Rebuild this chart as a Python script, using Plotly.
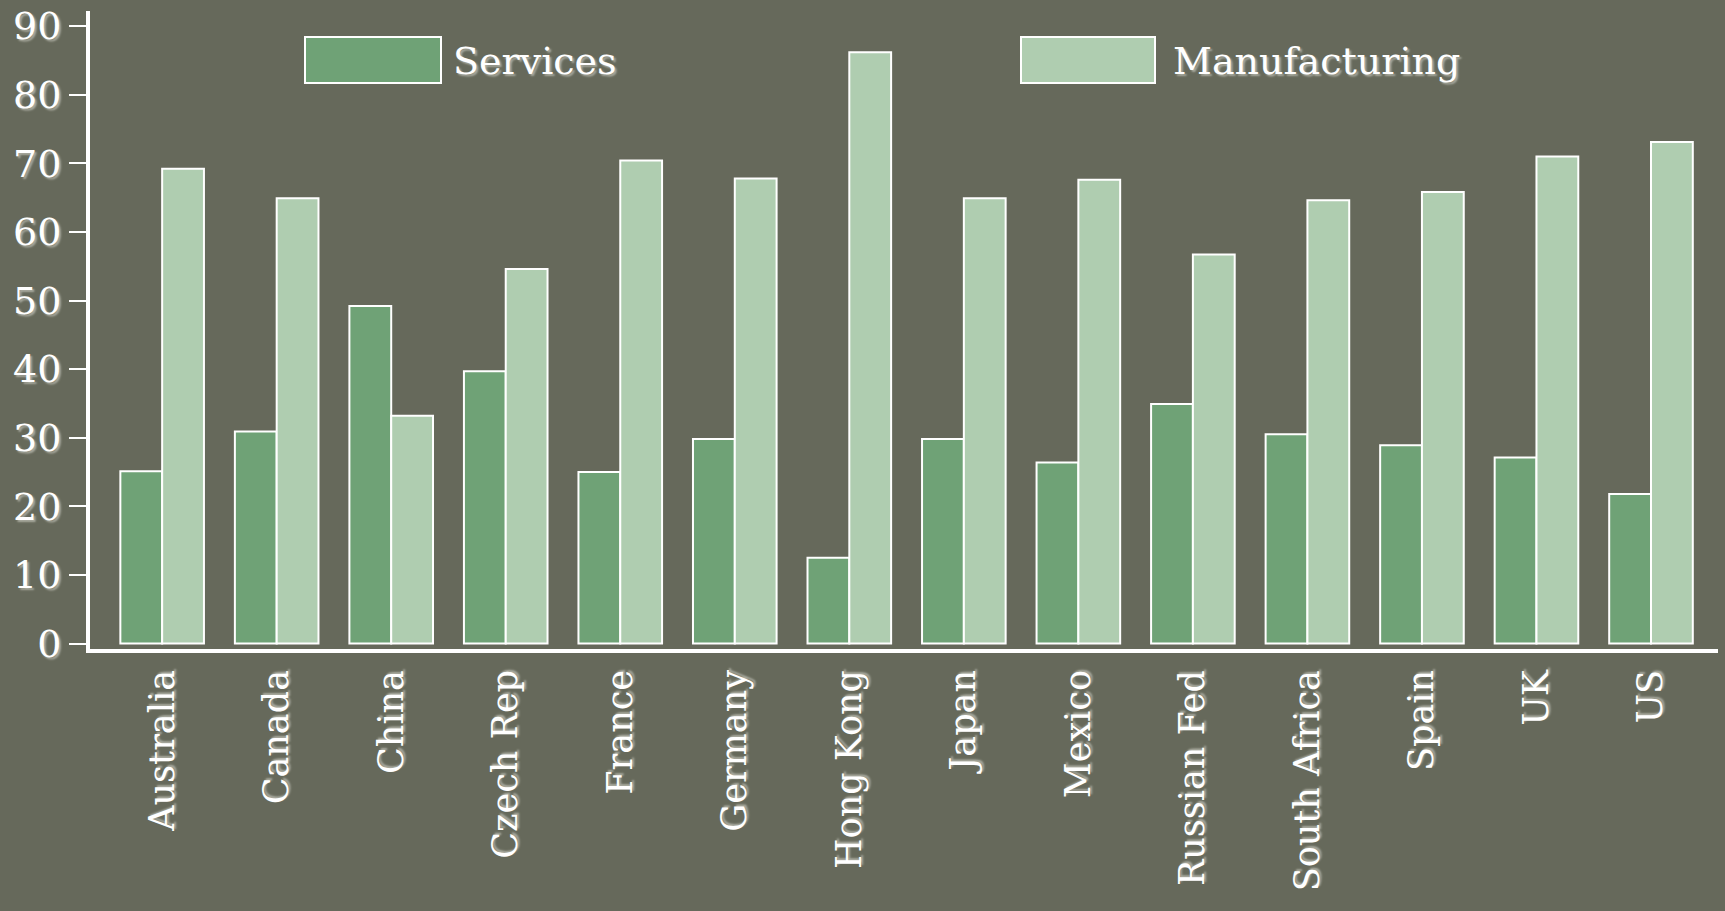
import plotly.graph_objects as go

countries = ["Australia", "Canada", "China", "Czech Rep", "France", "Germany", "Hong Kong",
             "Japan", "Mexico", "Russian Fed", "South Africa", "Spain", "UK", "US"]
services = [25.1, 30.9, 49.2, 39.7, 25.0, 29.8, 12.5, 29.8, 26.4, 34.9, 30.5, 28.9, 27.1, 21.8]
manufacturing = [69.2, 64.9, 33.2, 54.6, 70.4, 67.8, 86.2, 64.9, 67.6, 56.7, 64.6, 65.8, 71.0, 73.1]
y_ticks = [0, 10, 20, 30, 40, 50, 60, 70, 80, 90]

BG = "#66695b"
C_SERV = "#6fa276"
C_MANU = "#afcdb0"
FONT = "DejaVu Serif"
SHADOW = "2px 2px 2px rgba(215,215,205,0.6)"

fig = go.Figure()
fig.add_trace(go.Bar(x=countries, y=services, name="Services",
                     marker=dict(color=C_SERV, line=dict(color="white", width=2))))
fig.add_trace(go.Bar(x=countries, y=manufacturing, name="Manufacturing",
                     marker=dict(color=C_MANU, line=dict(color="white", width=2))))

W, H = 1725, 911
PL, PR, PT, PB = 90, 1718, 11, 649

for (x0, x1, color, label, tx) in [(305, 441, C_SERV, "Services", 451),
                                    (1021, 1155, C_MANU, "Manufacturing", 1171)]:
    fig.add_shape(type="rect", xref="paper", yref="paper",
                  x0=(x0 - PL) / (PR - PL), x1=(x1 - PL) / (PR - PL),
                  y0=(PB - 83) / (PB - PT), y1=(PB - 37) / (PB - PT),
                  fillcolor=color, line=dict(color="white", width=2))
    fig.add_annotation(xref="paper", yref="paper", x=(tx - PL) / (PR - PL),
                       y=(PB - 61) / (PB - PT), text=label, showarrow=False,
                       xanchor="left", yanchor="middle",
                       font=dict(family=FONT, size=38, color="white", shadow=SHADOW))

fig.update_layout(
    width=W, height=H,
    paper_bgcolor=BG, plot_bgcolor=BG,
    margin=dict(l=PL, r=W - PR, t=PT, b=H - PB),
    barmode="group", bargap=0.27, bargroupgap=0,
    showlegend=False,
    font=dict(family=FONT, size=38, color="white", shadow=SHADOW),
    xaxis=dict(range=[-0.63, 13.585], showgrid=False, showline=True, linecolor="white",
               linewidth=4, ticks="", tickangle=-90, tickfont=dict(size=35),
               ticklabelstandoff=3, automargin=False),
    yaxis=dict(range=[-0.8, 92.2], tickvals=y_ticks, showgrid=False, zeroline=False,
               showline=True, linecolor="white", linewidth=4, ticks="outside",
               ticklen=17, tickwidth=2, tickcolor="white", tickfont=dict(size=38),
               automargin=False),
)

fig.write_html("out.html")
